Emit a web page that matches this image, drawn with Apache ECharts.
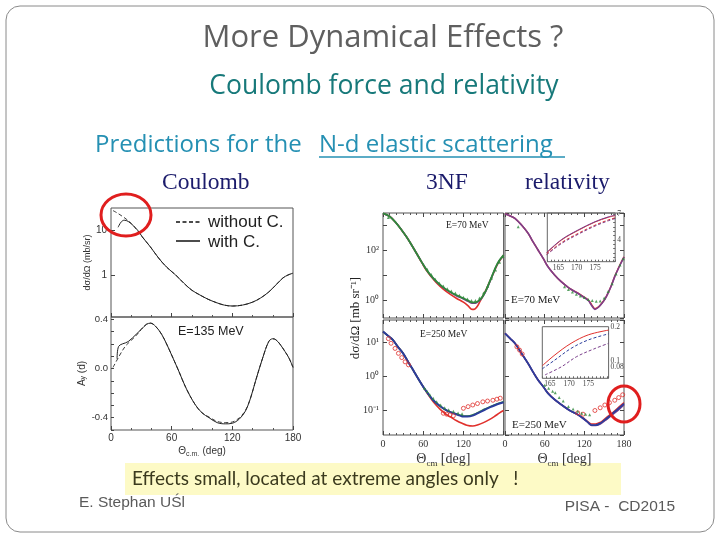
<!DOCTYPE html>
<html><head><meta charset="utf-8">
<script src="https://cdn.jsdelivr.net/npm/echarts@6/dist/echarts.min.js"></script>
<style>html,body{margin:0;padding:0;background:#fff}#c{width:720px;height:540px}</style>
</head><body><div id="c"></div>
<script>
// ---------- Left figure: Coulomb (E=135 MeV) ----------
const leftDsWithC = [[7,11.5],[10,15],[13,16.5],[17,15.5],[22,12.5],[27,9.5],[31,7.0],[39,4.2],[47,2.4],[55,1.5],[64,1.0],[72,0.66],[80,0.46],[88,0.36],[96,0.29],[104,0.245],[112,0.215],[120,0.205],[130,0.215],[140,0.25],[148,0.31],[156,0.42],[163,0.6],[170,0.86],[175,1.0],[180,1.1]];
const leftDsWithoutC = [[2,27],[6,24],[10,21],[15,17.5],[20,14],[25,10.5],[31,7.0],[39,4.2],[47,2.4],[55,1.5],[64,1.0],[72,0.66],[80,0.46],[88,0.36],[96,0.29],[104,0.245],[112,0.215],[120,0.205],[130,0.215],[140,0.25],[148,0.31],[156,0.42],[163,0.6],[170,0.86],[175,1.0],[180,1.1]];
const leftAyWithC = [[6,0.08],[7.5,0.18],[17,0.22],[25,0.28],[30,0.32],[35,0.36],[39,0.37],[44,0.345],[50,0.28],[55,0.2],[60,0.11],[67,-0.02],[74,-0.155],[83,-0.29],[90,-0.36],[97,-0.4],[105,-0.44],[113,-0.45],[120,-0.445],[127,-0.41],[133,-0.345],[138,-0.24],[143,-0.1],[150,0.086],[156,0.22],[160,0.243],[163,0.235],[167,0.2],[172,0.14],[176,0.086],[180,0.01]];
const leftAyWithoutC = [[2,0.01],[8,0.1],[14,0.18],[20,0.23],[25,0.27],[30,0.32],[35,0.36],[39,0.37],[44,0.345],[50,0.28],[55,0.2],[60,0.11],[67,-0.02],[74,-0.155],[83,-0.29],[90,-0.36],[97,-0.395],[105,-0.43],[113,-0.44],[120,-0.435],[127,-0.40],[133,-0.34],[138,-0.24],[143,-0.1],[150,0.086],[156,0.22],[160,0.243],[163,0.235],[167,0.2],[172,0.14],[176,0.086],[180,0.01]];

// ---------- Right figure: E=70 MeV, 3NF ----------
const tlGreen = [[0,2900],[10,2200],[20,1170],[28,620],[35,340],[42,170],[50,74],[58,32],[65,16],[72,9.2],[80,5.4],[90,3.2],[100,2.15],[110,1.55],[120,1.17],[127,0.95],[133,0.8],[138,0.8],[143,0.95],[148,1.3],[153,2.2],[158,4.5],[163,9.5],[168,20],[173,36],[180,62]];
const tlBlue = [[0,2900],[10,2200],[20,1170],[28,620],[35,340],[42,170],[50,74],[58,32],[65,16],[72,9.0],[80,5.3],[90,3.1],[100,2.05],[110,1.45],[120,1.1],[127,0.88],[133,0.74],[138,0.74],[143,0.9],[148,1.25],[153,2.1],[158,4.3],[163,9.2],[168,19],[173,35],[180,60]];
const tlRed = [[0,2900],[10,2200],[20,1170],[28,620],[35,340],[42,170],[50,74],[58,31],[65,15],[72,8.5],[80,4.8],[90,2.7],[100,1.7],[110,1.15],[120,0.82],[127,0.58],[132,0.43],[136,0.42],[140,0.52],[145,0.9],[150,1.6],[155,3.0],[160,6.0],[165,12],[170,24],[175,40],[180,62]];
const tlData = [[8,2000],[66,17],[72,10.5],[78,6.8],[84,4.8],[90,3.6],[96,2.8],[102,2.3],[108,1.9],[114,1.55],[120,1.3],[126,1.1],[132,0.95],[138,0.95],[144,1.2],[150,1.9],[156,3.5],[162,7.5],[168,16],[174,32],[179,55]];

// ---------- E=70 MeV, relativity ----------
const trBlue = [[0,2800],[8,2300],[15,1850],[25,1000],[35,465],[42,220],[50,100],[58,45],[65,21.5],[75,10],[85,5.4],[97,3.0],[110,1.86],[118,1.35],[126,0.95],[131,0.6],[136,0.42],[141,0.5],[146,0.7],[151,1.05],[156,1.9],[161,3.8],[166,8.6],[171,17],[176,32],[180,52]];
const trRed = [[0,2800],[8,2300],[15,1850],[25,1000],[35,465],[42,220],[50,100],[58,45],[65,21.5],[75,10],[85,5.4],[97,3.0],[110,1.9],[118,1.4],[126,1.0],[131,0.65],[136,0.45],[141,0.52],[146,0.72],[151,1.08],[156,1.95],[161,3.9],[166,8.8],[171,17.5],[176,33],[180,53]];
const trData = [[20,850],[90,3.4],[96,2.6],[102,2.1],[108,1.7],[114,1.45],[120,1.25],[126,1.05],[132,0.95],[138,0.88],[144,0.9],[150,1.2],[156,2.2],[162,4.5],[168,11],[174,25],[179,45]];

// ---------- E=250 MeV, 3NF ----------
const blBlue = [[0,21],[8,15.5],[15,11.8],[22,7.6],[30,4.8],[38,2.6],[45,1.55],[52,0.9],[60,0.5],[67,0.32],[75,0.2],[85,0.135],[95,0.1],[105,0.083],[114,0.072],[120,0.066],[126,0.066],[135,0.072],[144,0.088],[152,0.105],[160,0.125],[168,0.145],[174,0.16],[180,0.175]];
const blGreen = [[0,21],[8,15.5],[15,11.8],[22,7.6],[30,4.8],[38,2.6],[45,1.55],[52,0.9],[60,0.5],[67,0.32],[75,0.2],[85,0.135],[95,0.1],[105,0.084],[114,0.074],[120,0.069],[126,0.069],[135,0.076],[144,0.092],[152,0.11],[160,0.13],[168,0.15],[174,0.165],[180,0.18]];
const blRed = [[0,21],[8,15.5],[15,11.8],[22,7.6],[30,4.8],[38,2.6],[45,1.55],[52,0.9],[60,0.5],[67,0.3],[75,0.18],[85,0.11],[95,0.075],[100,0.066],[110,0.05],[118,0.042],[125,0.037],[134,0.035],[142,0.038],[150,0.044],[158,0.053],[166,0.066],[174,0.085],[180,0.1]];
const blRedData = [[8,13],[12,9.5],[18,6.7],[23,4.8],[28,3.6],[33,2.7],[38,2.2],[90,0.083],[95,0.078],[100,0.074],[105,0.07],[120,0.116],[127,0.13],[134,0.145],[141,0.16],[149,0.18],[156,0.19],[164,0.2],[170,0.215],[175,0.23]];
const blGreenData = [[62,0.45],[66,0.36],[70,0.29],[75,0.23],[80,0.18],[86,0.145],[92,0.12],[98,0.105],[105,0.095],[112,0.085],[118,0.08]];

// ---------- E=250 MeV, relativity ----------
const brBlue = [[0,18.6],[8,13],[15,9.5],[25,4.8],[35,2.4],[43,1.3],[50,0.79],[58,0.5],[65,0.32],[75,0.21],[86,0.145],[98,0.1],[111,0.074],[120,0.055],[126,0.044],[131,0.037],[137,0.037],[144,0.042],[151,0.053],[158,0.068],[166,0.092],[173,0.12],[180,0.16]];
const brPurple = [[0,18.6],[8,13],[15,9.5],[25,4.8],[35,2.4],[43,1.3],[50,0.79],[58,0.5],[65,0.32],[75,0.21],[86,0.145],[98,0.1],[111,0.073],[120,0.054],[126,0.043],[131,0.036],[137,0.036],[144,0.04],[151,0.05],[158,0.064],[166,0.085],[173,0.11],[180,0.145]];
const brRed = [[0,18.6],[8,13],[15,9.5],[25,4.8],[35,2.4],[43,1.3],[50,0.8],[58,0.5],[65,0.33],[75,0.21],[86,0.145],[98,0.1],[111,0.075],[120,0.057],[126,0.046],[131,0.04],[137,0.04],[144,0.045],[151,0.057],[158,0.073],[166,0.098],[173,0.13],[180,0.17]];
const brRedData = [[18,7.5],[22,6.0],[26,4.6],[110,0.085],[118,0.078],[136,0.10],[144,0.12],[151,0.145],[158,0.17],[166,0.2],[172,0.24],[178,0.29]];
const brGreenData = [[60,0.55],[66,0.45],[72,0.37],[76,0.33],[82,0.24],[88,0.19],[96,0.13],[103,0.11],[110,0.095],[116,0.083],[122,0.078],[128,0.075]];

// ---------- Insets ----------
const ins70RedSolid = [[161.8,2.5],[165.9,4.0],[170.4,5.1],[175,6.06],[178.6,6.6],[180.5,6.8]];
const ins70BlueSolid = [[161.8,2.55],[165.9,4.05],[170.4,5.15],[175,6.1],[178.6,6.65],[180.5,6.85]];
const ins70RedDash = [[161.8,2.35],[165.9,3.7],[170.4,4.75],[175,5.7],[178.6,6.3],[180.5,6.55]];
const ins70BlueDash = [[161.8,2.3],[165.9,3.6],[170.4,4.65],[175,5.6],[178.6,6.2],[180.5,6.45]];
const ins250Red = [[163,0.085],[166.3,0.117],[170.5,0.151],[175,0.176],[180.3,0.19]];
const ins250BlueDash = [[163,0.076],[166.3,0.102],[170.5,0.136],[175,0.161],[180.3,0.179]];
const ins250PurpleDash = [[163.7,0.058],[168,0.082],[172,0.112],[176.8,0.136],[180.3,0.151]];

const leftTicksY = [1, 10];
const angleTicks = [0, 60, 120, 180];

// ---------- helpers ----------
const RED = '#e0302c', GREEN = '#2f8a3c', BLUE = '#2c3d9c', PURPLE = '#7b3f8c';
const SERIF = 'Liberation Serif', SANS = 'Liberation Sans';
function sup(e){const m={'-':'\u207B','0':'\u2070','1':'\u00B9','2':'\u00B2','3':'\u00B3'};return String(e).split('').map(c=>m[c]).join('');}
function logFmt(wanted){return v=>{const l=Math.log10(v);const e=Math.round(l);if(Math.abs(l-e)>1e-6)return '';return wanted.includes(e)?'10'+sup(e):'';};}
function near(v,list){return list.some(x=>Math.abs(v-x)<1e-6);}
function line(data, i, color, width, dash, z){
  return {type:'line', xAxisIndex:i, yAxisIndex:i, data, symbol:'none', smooth:0.35, clip:true,
    lineStyle:{color, width, type: dash||'solid'}, z:z||2, silent:true};
}
function pts(data, i, color, symbol, size, hollow){
  return {type:'scatter', xAxisIndex:i, yAxisIndex:i, data, symbol, symbolSize:size, z:5, silent:true,
    itemStyle: hollow ? {color:'rgba(0,0,0,0)', borderColor:color, borderWidth:1} : {color}};
}
const frame = {show:true, borderColor:'#555', borderWidth:1, backgroundColor:'rgba(0,0,0,0)'};

const grids = [
  {left:111, top:208, width:182, height:109, ...frame},
  {left:111, top:317, width:182, height:113, ...frame},
  {left:383, top:213, width:120.6, height:105, ...frame},
  {left:505, top:213, width:119, height:105, ...frame},
  {left:383, top:320, width:120.6, height:115, ...frame},
  {left:505, top:320, width:119, height:115, ...frame},
  {left:547.3, top:213, width:67.9, height:48.7, ...frame, borderColor:'#666'},
  {left:542.3, top:326.7, width:66.3, height:51.6, ...frame, borderColor:'#666'}
];

const nameRich = {rich:{t:{fontSize:14,fontFamily:SERIF,color:'#333'}, s:{fontSize:9,fontFamily:SERIF,color:'#333',padding:[8,0,0,0]}}};
function angleX(gi, showLabels, hide180, name, pos){
  const ax = {type:'value', gridIndex:gi, min:0, max:180, interval:60, position: pos||'bottom',
    axisLine:{show:false, onZero:false}, splitLine:{show:false},
    axisTick:{show:true, inside:true, length:4, lineStyle:{color:'#444'}},
    minorTick:{show:true, splitNumber: gi<2?3:6, length:2, lineStyle:{color:'#555'}},
    axisLabel:{show:showLabels, margin: gi<2?3:4, fontSize:10, color:'#333', fontFamily: gi<2?SANS:SERIF,
      formatter: v => (hide180 && v===180) ? '' : (angleTicks.includes(v)? String(v):'')}};
  if (name) Object.assign(ax, name);
  return ax;
}
const xAxes = [
  angleX(0,false),
  angleX(1,true,false,{name:'{t|\u0398}{s|c.m.} {t|(deg)}', nameLocation:'middle', nameGap:15,
    nameTextStyle:{rich:{t:{fontSize:10,fontFamily:SANS,color:'#333'}, s:{fontSize:7,fontFamily:SANS,color:'#333',padding:[6,0,0,0]}}}}),
  angleX(2,false), angleX(3,false),
  angleX(4,true,true,{name:'{t|\u0398}{s|cm} {t|[deg]}', nameLocation:'middle', nameGap:16, nameTextStyle:nameRich}),
  angleX(5,true,false,{name:'{t|\u0398}{s|cm} {t|[deg]}', nameLocation:'middle', nameGap:16, nameTextStyle:nameRich}),
  {type:'value', gridIndex:6, min:162, max:180.5, interval:1, axisLine:{show:false, onZero:false}, splitLine:{show:false},
    axisTick:{inside:true, length:2, lineStyle:{color:'#666'}},
    axisLabel:{margin:2, fontSize:7.5, fontFamily:SERIF, color:'#444', formatter:v=>near(v,[165,170,175])?String(v):''}},
  {type:'value', gridIndex:7, min:163, max:180.3, interval:1, axisLine:{show:false, onZero:false}, splitLine:{show:false},
    axisTick:{inside:true, length:2, lineStyle:{color:'#666'}},
    axisLabel:{margin:2, fontSize:7.5, fontFamily:SERIF, color:'#444', formatter:v=>near(v,[165,170,175])?String(v):''}},
  angleX(2,false,false,null,'top'), angleX(3,false,false,null,'top'),
  angleX(4,false,false,null,'top'), angleX(5,false,false,null,'top')
];
function logY(gi, min, max, fmt, show, pos){
  return {type:'log', gridIndex:gi, min, max, position: pos||'left', axisLine:{show:false, onZero:false}, splitLine:{show:false},
    axisTick:{show:true, inside:true, length:4, lineStyle:{color:'#444'}},
    axisLabel:{show:show, showMinLabel:false, showMaxLabel:false, margin:4, fontSize:10, color:'#333', fontFamily: gi<2?SANS:SERIF, formatter:fmt}};
}
const yAxes = [
  Object.assign(logY(0, 0.117, 30.8, v=>{const l=Math.log10(v);const e=Math.round(l);if(Math.abs(l-e)>1e-6)return '';return leftTicksY.includes(Math.pow(10,e))?String(Math.pow(10,e)):'';}, true),
    {name:'d\u03C3/d\u03A9 (mb/sr)', nameLocation:'middle', nameGap:19, nameRotate:90, nameTextStyle:{fontSize:9, fontFamily:SANS, color:'#333'}}),
  {type:'value', gridIndex:1, min:-0.5, max:0.42, interval:0.1, axisLine:{show:false, onZero:false}, splitLine:{show:false},
    axisTick:{show:true, inside:true, length:3, lineStyle:{color:'#444'}},
    axisLabel:{margin:3, fontSize:9.5, color:'#333', fontFamily:SANS, showMaxLabel:false,
      formatter:v=>near(v,[-0.4])?'-0.4':near(v,[0])?'0.0':near(v,[0.4])?'0.4':''},
    name:'{a|A}{s|y}{a| (d)}', nameLocation:'middle', nameGap:21, nameRotate:90,
    nameTextStyle:{rich:{a:{fontSize:10,fontFamily:SANS,color:'#333'}, s:{fontSize:7,fontFamily:SANS,color:'#333'}}}},
  logY(2, 0.19, 3020, logFmt([0,2]), true),
  logY(3, 0.19, 3020, logFmt([]), false),
  logY(4, 0.019, 46, logFmt([1,0,-1]), true),
  logY(5, 0.019, 46, logFmt([]), false),
  {type:'value', gridIndex:6, position:'right', min:1.5, max:7.1, interval:0.5, axisLine:{show:false, onZero:false}, splitLine:{show:false},
    axisTick:{show:true, inside:true, length:2, lineStyle:{color:'#666'}},
    axisLabel:{margin:2, fontSize:7.5, fontFamily:SERIF, color:'#444', showMaxLabel:false, formatter:v=>near(v,[4,7])?String(v):''}},
  {type:'value', gridIndex:7, position:'right', min:0.048, max:0.2, interval:0.004, axisLine:{show:false, onZero:false}, splitLine:{show:false},
    axisTick:{show:false},
    axisLabel:{margin:2, fontSize:7.5, fontFamily:SERIF, color:'#444', formatter:v=>near(v,[0.08])?'0.08':near(v,[0.1])?'0.1':near(v,[0.2])?'0.2':''}},
  logY(3, 0.19, 3020, logFmt([]), false, 'right'),
  logY(5, 0.019, 46, logFmt([]), false, 'right')
];

const series = [
  line(leftDsWithoutC, 0, '#222', 0.9, [4,2.5]),
  line(leftDsWithC, 0, '#222', 1),
  line(leftAyWithoutC, 1, '#222', 0.9, [4,2.5]),
  line(leftAyWithC, 1, '#222', 1),

  line(tlRed, 2, RED, 1.6),
  line(tlBlue, 2, PURPLE, 1.6),
  line(tlGreen, 2, GREEN, 1.8),
  pts(tlData, 2, GREEN, 'triangle', 3, false),

  line(trRed, 3, RED, 1.5),
  line(trBlue, 3, PURPLE, 1.6),
  pts(trData, 3, GREEN, 'triangle', 3, false),

  line(blRed, 4, RED, 1.6),
  line(blGreen, 4, GREEN, 1.6),
  line(blBlue, 4, BLUE, 2),
  pts(blRedData, 4, RED, 'circle', 4, true),
  pts(blGreenData, 4, GREEN, 'triangle', 3, false),

  line(brRed, 5, RED, 1.4),
  line(brPurple, 5, PURPLE, 1.6),
  line(brBlue, 5, BLUE, 1.8),
  pts(brRedData, 5, RED, 'circle', 4, true),
  pts(brGreenData, 5, GREEN, 'triangle', 3, false),

  line(ins70RedSolid, 6, RED, 1),
  line(ins70BlueSolid, 6, PURPLE, 1),
  line(ins70RedDash, 6, RED, 1, [3,2]),
  line(ins70BlueDash, 6, PURPLE, 1, [3,2]),
  line(ins250Red, 7, RED, 1),
  line(ins250BlueDash, 7, BLUE, 1, [3,2]),
  line(ins250PurpleDash, 7, PURPLE, 1, [3,2])
];

const graphic = [
  {type:'rect', shape:{x:6,y:6,width:708,height:526,r:14}, style:{fill:'none', stroke:'#8a8a8a', lineWidth:1}, z:-1},
  {type:'text', x:383, y:38, style:{text:'More Dynamical Effects ?', font:'31px "Open Sans"', fill:'#5f5f5f', align:'center', verticalAlign:'middle'}},
  {type:'text', x:384, y:86, style:{text:'Coulomb force and relativity', font:'26.5px "Open Sans"', fill:'#17797a', align:'center', verticalAlign:'middle'}},
  {type:'text', x:95, y:145, style:{text:'Predictions for the', font:'24px "Open Sans"', fill:'#2590b3', align:'left', verticalAlign:'middle'}},
  {type:'text', x:319, y:145, style:{text:'N-d elastic scattering', font:'24px "Open Sans"', fill:'#2590b3', align:'left', verticalAlign:'middle'}},
  {type:'line', shape:{x1:319,y1:157,x2:565,y2:157}, style:{stroke:'#2590b3', lineWidth:1.3}},
  {type:'text', x:162, y:183, style:{text:'Coulomb', font:'23.5px "Liberation Serif"', fill:'#1b1b6b', verticalAlign:'middle'}},
  {type:'text', x:426, y:183, style:{text:'3NF', font:'23.5px "Liberation Serif"', fill:'#1b1b6b', verticalAlign:'middle'}},
  {type:'text', x:525, y:183, style:{text:'relativity', font:'23.5px "Liberation Serif"', fill:'#1b1b6b', verticalAlign:'middle'}},
  {type:'line', shape:{x1:176,y1:222,x2:200,y2:222}, style:{stroke:'#111', lineWidth:1.5, lineDash:[4,2.5]}, z:10},
  {type:'line', shape:{x1:176,y1:241,x2:200,y2:241}, style:{stroke:'#111', lineWidth:1.5}, z:10},
  {type:'text', x:208, y:222, style:{text:'without C.', font:'17px "Liberation Sans"', fill:'#222', verticalAlign:'middle'}, z:10},
  {type:'text', x:208, y:242, style:{text:'with C.', font:'17px "Liberation Sans"', fill:'#222', verticalAlign:'middle'}, z:10},
  {type:'text', x:178, y:332, style:{text:'E=135 MeV', font:'12.5px "Liberation Sans"', fill:'#222', verticalAlign:'middle'}, z:10},
  {type:'text', x:446, y:225, style:{text:'E=70 MeV', font:'9.5px "Liberation Serif"', fill:'#222', verticalAlign:'middle'}, z:10},
  {type:'text', x:511, y:300, style:{text:'E=70 MeV', font:'11px "Liberation Serif"', fill:'#222', verticalAlign:'middle'}, z:10},
  {type:'text', x:420, y:334, style:{text:'E=250 MeV', font:'9.5px "Liberation Serif"', fill:'#222', verticalAlign:'middle'}, z:10},
  {type:'text', x:512, y:425, style:{text:'E=250 MeV', font:'11px "Liberation Serif"', fill:'#222', verticalAlign:'middle'}, z:10},
  {type:'text', x:356, y:318, rotation:Math.PI/2, style:{text:'d\u03C3/d\u03A9 [mb sr\u207B\u00B9]', font:'13px "Liberation Serif"', fill:'#222', align:'center', verticalAlign:'middle'}, z:10},
  {type:'ellipse', shape:{cx:126, cy:215, rx:25, ry:21}, style:{fill:'none', stroke:'#e01e1e', lineWidth:3}, z:20},
  {type:'ellipse', shape:{cx:624, cy:404, rx:16, ry:18}, style:{fill:'none', stroke:'#e01e1e', lineWidth:3}, z:20},
  {type:'rect', shape:{x:125, y:463, width:496, height:32}, style:{fill:'#fdfac6'}, z:-1},
  {type:'text', x:132, y:479, style:{text:'Effects small, located at extreme angles only   !', font:'19px "Lato"', fill:'#3b3a1e', verticalAlign:'middle'}, z:6},
  {type:'text', x:79, y:503, style:{text:'E. Stephan UŚl', font:'15.5px "Liberation Sans"', fill:'#5a5a5a', verticalAlign:'middle'}, z:6},
  {type:'text', x:675, y:507, style:{text:'PISA -  CD2015', font:'15.5px "Liberation Sans"', fill:'#5a5a5a', align:'right', verticalAlign:'middle'}, z:6}
];

const chart = echarts.init(document.getElementById('c'));
chart.setOption({animation:false, backgroundColor:'#fff', grid:grids, xAxis:xAxes, yAxis:yAxes, series, graphic});
</script></body></html>
